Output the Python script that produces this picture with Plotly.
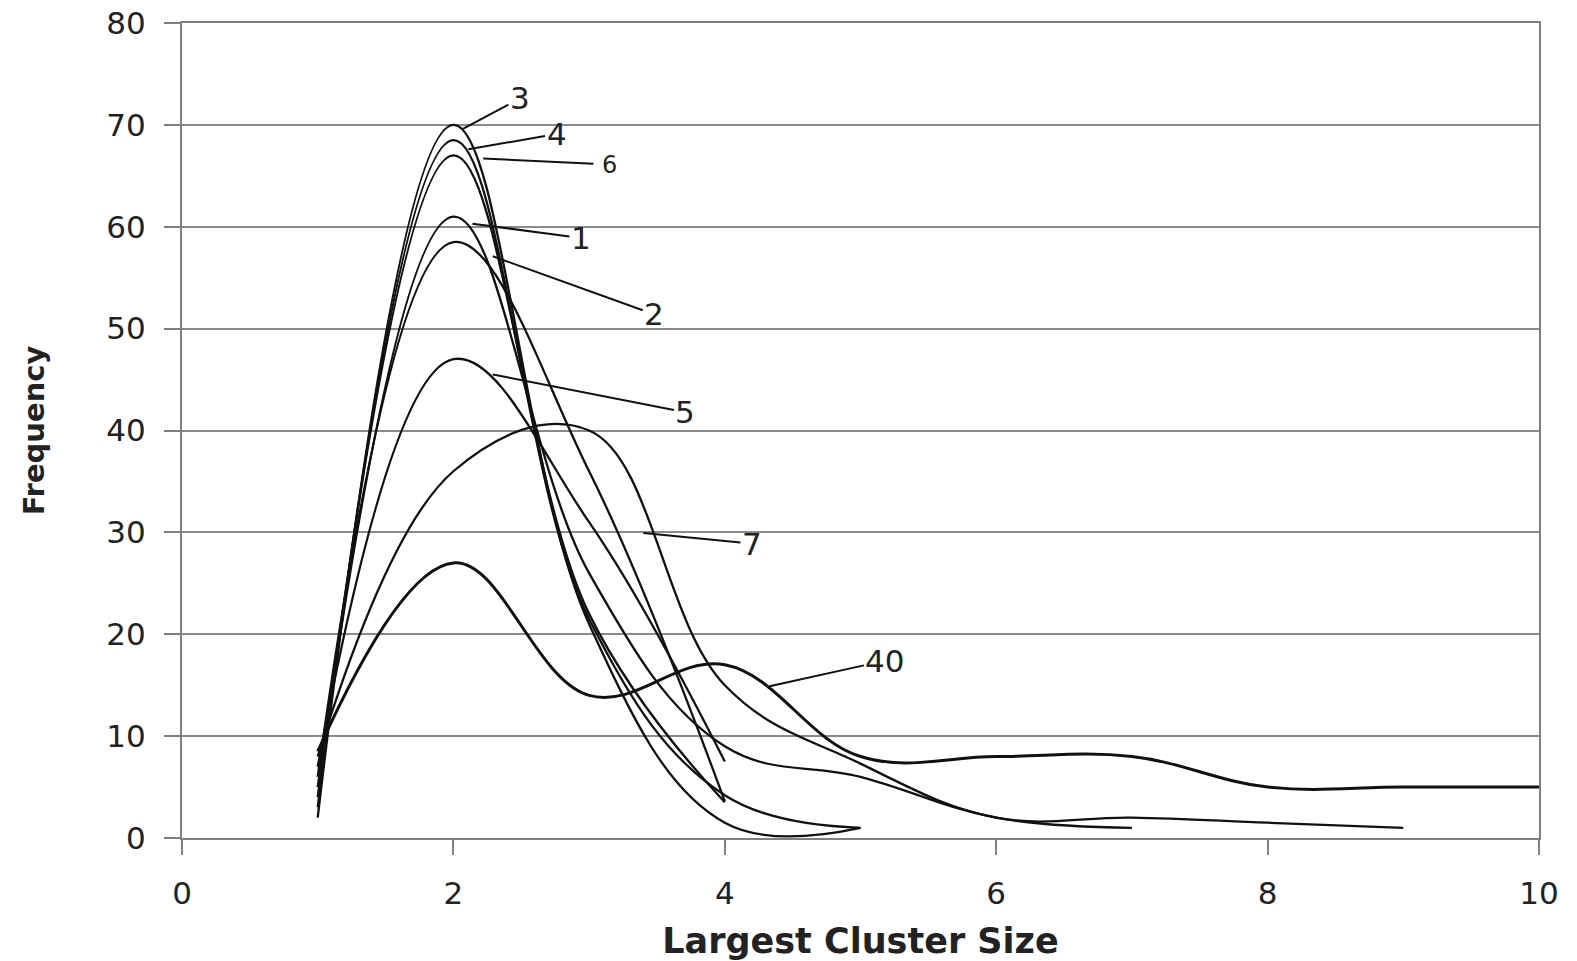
import plotly.graph_objects as go

# ---- data ----
x_1 = [1, 2, 3, 4, 5, 6, 7]
y_1 = [5, 61, 26, 9, 6, 2, 1]

x_2 = [1, 2, 3, 4]
y_2 = [6, 58.5, 36, 3.6]

x_3 = [1, 2, 3, 4, 5]
y_3 = [2, 70, 21, 1.5, 1]

x_4 = [1, 2, 3, 4, 5]
y_4 = [3, 68.5, 21.5, 4.2, 1]

x_5 = [1, 2, 3, 4]
y_5 = [7, 47, 31, 7.5]

x_6 = [1, 2, 3, 4]
y_6 = [4, 67, 22, 3.5]

x_7 = [1, 2, 3, 4, 5, 6, 7, 8, 9]
y_7 = [8, 36, 40, 15, 7.3, 2, 2, 1.5, 1]

x_40 = [1, 2, 3, 4, 5, 6, 7, 8, 9, 10]
y_40 = [8.5, 27, 14, 17, 8, 8, 8, 5, 5, 5]

series_names = ["1", "2", "3", "4", "5", "6", "7", "40"]
series_x = [x_1, x_2, x_3, x_4, x_5, x_6, x_7, x_40]
series_y = [y_1, y_2, y_3, y_4, y_5, y_6, y_7, y_40]

x_ticks = [0, 2, 4, 6, 8, 10]
y_ticks = [0, 10, 20, 30, 40, 50, 60, 70, 80]

# label text, curve point (tip), label position
label_text = ["3", "4", "6", "1", "2", "5", "7", "40"]
label_tip_x = [2.07, 2.11, 2.22, 2.14, 2.29, 2.29, 3.40, 4.33]
label_tip_y = [69.6, 67.6, 66.7, 60.3, 57.1, 45.5, 29.95, 14.9]
label_pos_x = [2.49, 2.76, 3.15, 2.94, 3.48, 3.71, 4.20, 5.18]
label_pos_y = [72.6, 69.1, 66.1, 58.9, 51.4, 41.8, 28.9, 17.4]

fig = go.Figure()
for name, xs, ys in zip(series_names, series_x, series_y):
    fig.add_trace(go.Scatter(
        x=xs, y=ys, mode="lines", name=name,
        line=dict(color="#111111", width=3 if name == "40" else 2.3,
                  shape="spline", smoothing=1.1),
        showlegend=False,
    ))

for t, tx, ty, px, py in zip(label_text, label_tip_x, label_tip_y, label_pos_x, label_pos_y):
    small = (t == "6")
    fig.add_annotation(
        x=tx, y=ty, ax=px, ay=py, axref="x", ayref="y", xref="x", yref="y",
        text=t, showarrow=True, arrowhead=0, arrowwidth=2, arrowcolor="#111111",
        font=dict(family="DejaVu Sans", size=24 if small else 31, color="#222222"),
        borderpad=8 if small else 1,
    )

fig.update_layout(
    width=1577, height=961,
    margin=dict(l=182, r=38, t=23, b=123),
    paper_bgcolor="white", plot_bgcolor="white",
    font=dict(family="DejaVu Sans", size=31, color="#222222"),
)
fig.update_xaxes(
    range=[0, 10], tickvals=x_ticks, ticks="outside", ticklen=15, tickwidth=2,
    tickcolor="#808080", showline=True, linecolor="#808080", linewidth=2,
    mirror=True, showgrid=False, zeroline=False, automargin=False,
    ticklabeloverflow="allow",
    tickfont=dict(family="DejaVu Sans", size=31, color="#222222"),
    ticklabelstandoff=12,
    title=dict(text="Largest Cluster Size", standoff=27,
               font=dict(family="DejaVu Sans", size=35, color="#222222", weight="bold")),
)
fig.update_yaxes(
    range=[0, 80], tickvals=y_ticks, ticks="outside", ticklen=16, tickwidth=2,
    tickcolor="#808080", showline=True, linecolor="#808080", linewidth=2,
    mirror=True, showgrid=True, gridcolor="#8a8a8a", gridwidth=2, zeroline=False,
    automargin=False, ticklabeloverflow="allow",
    tickfont=dict(family="DejaVu Sans", size=31, color="#222222"),
    ticklabelstandoff=12,
    title=dict(text="Frequency", standoff=53,
               font=dict(family="DejaVu Sans", size=29, color="#222222", weight="bold")),
)

fig.write_html("out.html", config={"displayModeBar": False},
               post_script="document.body.style.margin='0';document.body.style.overflow='hidden';")
